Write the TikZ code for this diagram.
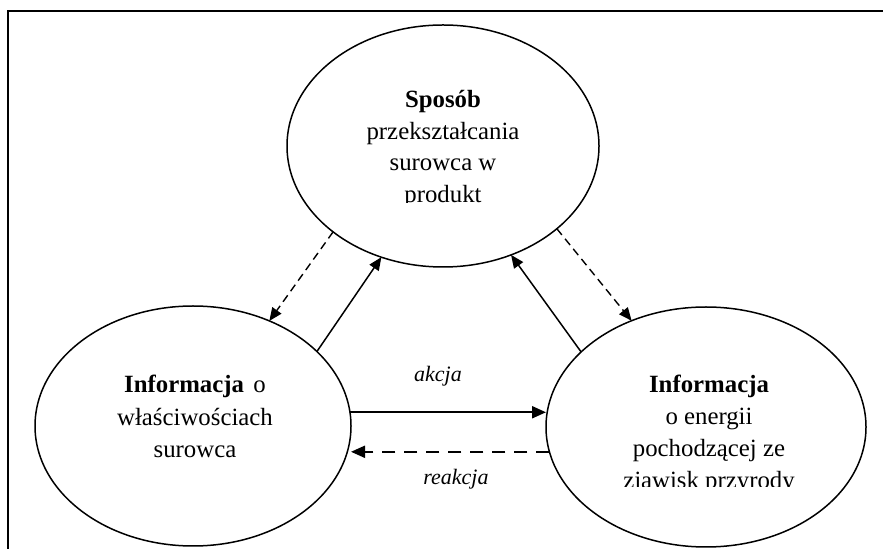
\documentclass[tikz,border=0pt]{standalone}
\usepackage{fontspec}
\setmainfont{Liberation Serif}
\usetikzlibrary{shapes.geometric,arrows.meta}
\begin{document}
\begin{tikzpicture}[x=0.5pt,y=-0.5pt,
  bub/.style={ellipse,draw,line width=0.75pt,inner sep=0pt,outer sep=0pt},
  txt/.style={anchor=base,inner sep=0pt,font=\fontsize{12.4}{15}\selectfont},
  lbl/.style={anchor=base,inner sep=0pt,font=\fontsize{11}{13}\selectfont\itshape},
  tip/.style={-{Triangle[length=6.5pt,width=5.5pt]}},
  solidarrow/.style={tip,line width=0.75pt},
  dasharrow/.style={tip,line width=0.7pt,dash pattern=on 4pt off 2.5pt},
  bigarrow/.style={-{Triangle[length=7pt,width=6pt]},line width=1.1pt},
  bigdash/.style={-{Triangle[length=7pt,width=6pt]},line width=1pt,dash pattern=on 6.5pt off 4.5pt},
  frameline/.style={line width=1.2pt}]
\useasboundingbox (0,0) rectangle (883,549);
% frame
\coordinate (fa) at (8,560);
\coordinate (fb) at (8,11);
\coordinate (fc) at (890,11);
\draw[frameline] (fa) -- (fb) -- (fc);
% ellipses
\node[bub,minimum width=156pt,minimum height=121pt] (T) at (443,146) {};
\node[bub,minimum width=158pt,minimum height=120pt] (L) at (193,426) {};
\node[bub,minimum width=160pt,minimum height=120pt] (R) at (706,427) {};
% top text
\node[txt] (t1) at (443,108) {\textbf{Sposób}};
\node[txt] (t2) at (443,139.5) {przekształcania};
\node[txt] (t3) at (443,171) {surowca w};
\begin{scope}
  \clip (290,180) rectangle (598,203);
  \node[txt] (t4) at (443,203) {produkt};
\end{scope}
% left text
\node[txt] (l1) at (195,393) {\textbf{Informacja}\hspace{0.38em}o};
\node[txt] (l2) at (195,426) {właściwościach};
\node[txt] (l3) at (195,458) {surowca};
% right text
\node[txt] (r1) at (709,393) {\textbf{Informacja}};
\node[txt] (r2) at (709,425) {o energii};
\node[txt] (r3) at (709,457) {pochodzącej ze};
\begin{scope}
  \clip (550,465) rectangle (864,487);
  \node[txt] (r4) at (709,489) {zjawisk przyrody};
\end{scope}
% connectors
\draw[solidarrow] (L.31) -- (T.241);
\draw[dasharrow] (T.218) -- (L.54);
\draw[solidarrow] (R.149) -- (T.302);
\draw[dasharrow] (T.324) -- (R.125);
\draw[bigarrow] (L.5) -- (L.5 -| R.west);
\draw[bigdash] (R.189) -- (R.189 -| L.east);
% labels
\node[lbl] (ak) at (438,382) {akcja};
\node[lbl] (re) at (456,485) {reakcja};
\end{tikzpicture}
\end{document}
